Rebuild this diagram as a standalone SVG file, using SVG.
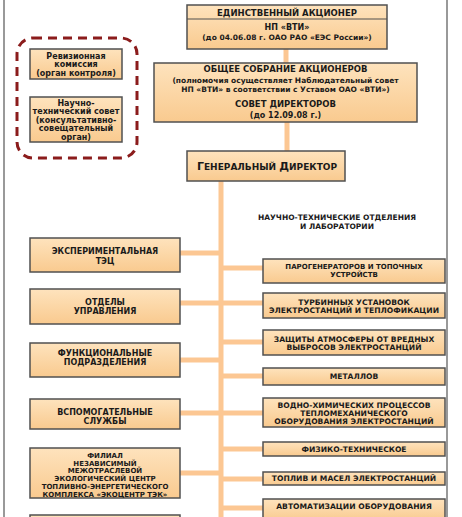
<svg xmlns="http://www.w3.org/2000/svg" width="462" height="517" viewBox="0 0 462 517">
<defs>
<linearGradient id="g" x1="0" y1="0" x2="0" y2="1">
<stop offset="0" stop-color="#fee3bd"/>
<stop offset="1" stop-color="#f9ca8f"/>
</linearGradient>
<style>
.box{fill:url(#g);stroke:#505050;stroke-width:1.5}
.t{font-family:"DejaVu Sans",sans-serif;font-weight:bold;font-size:8px;fill:#1a1a1a;text-anchor:middle}
.s{font-size:7.5px}
.r{font-size:7.6px}
.xs{font-size:7px}
.conn{stroke:#fcc793;stroke-width:5;fill:none}
.frame{stroke:#777;stroke-width:1.5}
</style>
</defs>
<rect width="462" height="517" fill="#ffffff"/>
<line class="frame" x1="4" y1="0" x2="4" y2="517"/>
<line class="frame" x1="447" y1="0" x2="447" y2="517"/>
<g id="connectors">
<line class="conn" x1="286" y1="49" x2="286" y2="63"/>
<line class="conn" x1="287" y1="122" x2="287" y2="151"/>
<line class="conn" x1="221" y1="181" x2="221" y2="517"/>
<path class="conn" d="M180 253H221M180 303H221M180 360H221M180 413H221M180 473H221"/>
<path class="conn" d="M221 268H263M221 303H263M221 342H263M221 376H263M221 413H263M221 449H263M221 479H263M221 508H263"/>
</g>
<g id="shareholder">
<rect class="box" x="187" y="5" width="200" height="44"/>
<line x1="187" y1="19" x2="387" y2="19" stroke="#505050" stroke-width="1.2"/>
<text class="t" x="287" y="15.8" style="font-size:8.5px">ЕДИНСТВЕННЫЙ АКЦИОНЕР</text>
<text class="t" x="287" y="30">НП «ВТИ»</text>
<text class="t s" x="287" y="40">(до 04.06.08 г. ОАО РАО «ЕЭС России»)</text>
</g>
<g id="general-meeting">
<rect class="box" x="154" y="63" width="263" height="59"/>
<text class="t" x="285.5" y="72" style="font-size:8.5px">ОБЩЕЕ СОБРАНИЕ АКЦИОНЕРОВ</text>
<text class="t s" x="285.5" y="83">(полномочия осуществляет Наблюдательный совет</text>
<text class="t s" x="285.5" y="92">НП «ВТИ» в соответствии с Уставом ОАО «ВТИ»)</text>
<text class="t" x="285.5" y="107" style="font-size:8.5px">СОВЕТ ДИРЕКТОРОВ</text>
<text class="t" x="285.5" y="118">(до 12.09.08 г.)</text>
</g>
<g id="advisory-group">
<rect x="17" y="38" width="120" height="120" rx="16" fill="none" stroke="#8b1c1c" stroke-width="3" stroke-dasharray="9 6"/>
</g>
<g id="audit">
<rect class="box" x="30" y="49" width="92" height="30"/>
<text class="t" x="76" y="59">Ревизионная</text>
<text class="t" x="76" y="67.3">комиссия</text>
<text class="t" x="76" y="75.7">(орган контроля)</text>
</g>
<g id="sci-council">
<rect class="box" x="30" y="97" width="92" height="45"/>
<text class="t" x="76" y="105.7">Научно-</text>
<text class="t" x="76" y="114">технический совет</text>
<text class="t" x="76" y="123">(консультативно-</text>
<text class="t" x="76" y="131.3">совещательный</text>
<text class="t" x="76" y="139.7">орган)</text>
</g>
<g id="general-director">
<rect class="box" x="187" y="151" width="158" height="30"/>
<text class="t" x="267" y="170" style="font-size:9px"><tspan style="font-size:11px">Г</tspan>ЕНЕРАЛЬНЫЙ <tspan style="font-size:11px">Д</tspan>ИРЕКТОР</text>
</g>
<g id="labs-title">
<text class="t s" x="337" y="220" fill="#333">НАУЧНО-ТЕХНИЧЕСКИЕ ОТДЕЛЕНИЯ</text>
<text class="t s" x="337" y="229" fill="#333">И ЛАБОРАТОРИИ</text>
</g>
<g id="exp-tec">
<rect class="box" x="30" y="238" width="150" height="34"/>
<text class="t" x="105" y="254">ЭКСПЕРИМЕНТАЛЬНАЯ</text>
<text class="t" x="105" y="263.7">ТЭЦ</text>
</g>
<g id="mgmt">
<rect class="box" x="30" y="289" width="150" height="35"/>
<text class="t" x="105" y="304.7">ОТДЕЛЫ</text>
<text class="t" x="105" y="313.7">УПРАВЛЕНИЯ</text>
</g>
<g id="functional">
<rect class="box" x="30" y="343" width="150" height="34"/>
<text class="t" x="105" y="356.3">ФУНКЦИОНАЛЬНЫЕ</text>
<text class="t" x="105" y="364.7">ПОДРАЗДЕЛЕНИЯ</text>
</g>
<g id="aux">
<rect class="box" x="30" y="399" width="150" height="30"/>
<text class="t" x="105" y="414.7">ВСПОМОГАТЕЛЬНЫЕ</text>
<text class="t" x="105" y="423.7">СЛУЖБЫ</text>
</g>
<g id="branch">
<rect class="box" x="30" y="448" width="150" height="50"/>
<text class="t xs" x="105" y="457.8">ФИЛИАЛ</text>
<text class="t xs" x="105" y="465.6">НЕЗАВИСИМЫЙ</text>
<text class="t xs" x="105" y="473.4">МЕЖОТРАСЛЕВОЙ</text>
<text class="t xs" x="105" y="481.2">ЭКОЛОГИЧЕСКИЙ ЦЕНТР</text>
<text class="t xs" x="105" y="489">ТОПЛИВНО-ЭНЕРГЕТИЧЕСКОГО</text>
<text class="t xs" x="105" y="496.8">КОМПЛЕКСА «ЭКОЦЕНТР ТЭК»</text>
</g>
<g id="left-bottom">
<rect class="box" x="30" y="515" width="150" height="20"/>
</g>
<g id="lab-steam">
<rect class="box" x="263" y="259" width="182" height="24"/>
<text class="t xs" x="354" y="268.5">ПАРОГЕНЕРАТОРОВ И ТОПОЧНЫХ</text>
<text class="t xs" x="354" y="276.5">УСТРОЙСТВ</text>
</g>
<g id="lab-turbine">
<rect class="box" x="263" y="293" width="182" height="25"/>
<text class="t r" x="354" y="304.5">ТУРБИННЫХ УСТАНОВОК</text>
<text class="t r" x="354" y="313">ЭЛЕКТРОСТАНЦИЙ И ТЕПЛОФИКАЦИИ</text>
</g>
<g id="lab-air">
<rect class="box" x="263" y="330" width="182" height="25"/>
<text class="t r" x="354" y="341.8">ЗАЩИТЫ АТМОСФЕРЫ ОТ ВРЕДНЫХ</text>
<text class="t r" x="354" y="350.3">ВЫБРОСОВ ЭЛЕКТРОСТАНЦИЙ</text>
</g>
<g id="lab-metal">
<rect class="box" x="263" y="368" width="182" height="17"/>
<text class="t r" x="354" y="379">МЕТАЛЛОВ</text>
</g>
<g id="lab-water">
<rect class="box" x="263" y="398" width="182" height="29"/>
<text class="t r" x="354" y="407.8">ВОДНО-ХИМИЧЕСКИХ ПРОЦЕССОВ</text>
<text class="t r" x="354" y="415.7">ТЕПЛОМЕХАНИЧЕСКОГО</text>
<text class="t r" x="354" y="423.8">ОБОРУДОВАНИЯ ЭЛЕКТРОСТАНЦИЙ</text>
</g>
<g id="lab-phys">
<rect class="box" x="263" y="442" width="182" height="14"/>
<text class="t r" x="354" y="452">ФИЗИКО-ТЕХНИЧЕСКОЕ</text>
</g>
<g id="lab-fuel">
<rect class="box" x="263" y="472" width="182" height="13"/>
<text class="t r" x="354" y="481.2">ТОПЛИВ И МАСЕЛ ЭЛЕКТРОСТАНЦИЙ</text>
</g>
<g id="lab-auto">
<rect class="box" x="263" y="499" width="182" height="22"/>
<text class="t r" x="354" y="509">АВТОМАТИЗАЦИИ ОБОРУДОВАНИЯ</text>
</g>
</svg>
